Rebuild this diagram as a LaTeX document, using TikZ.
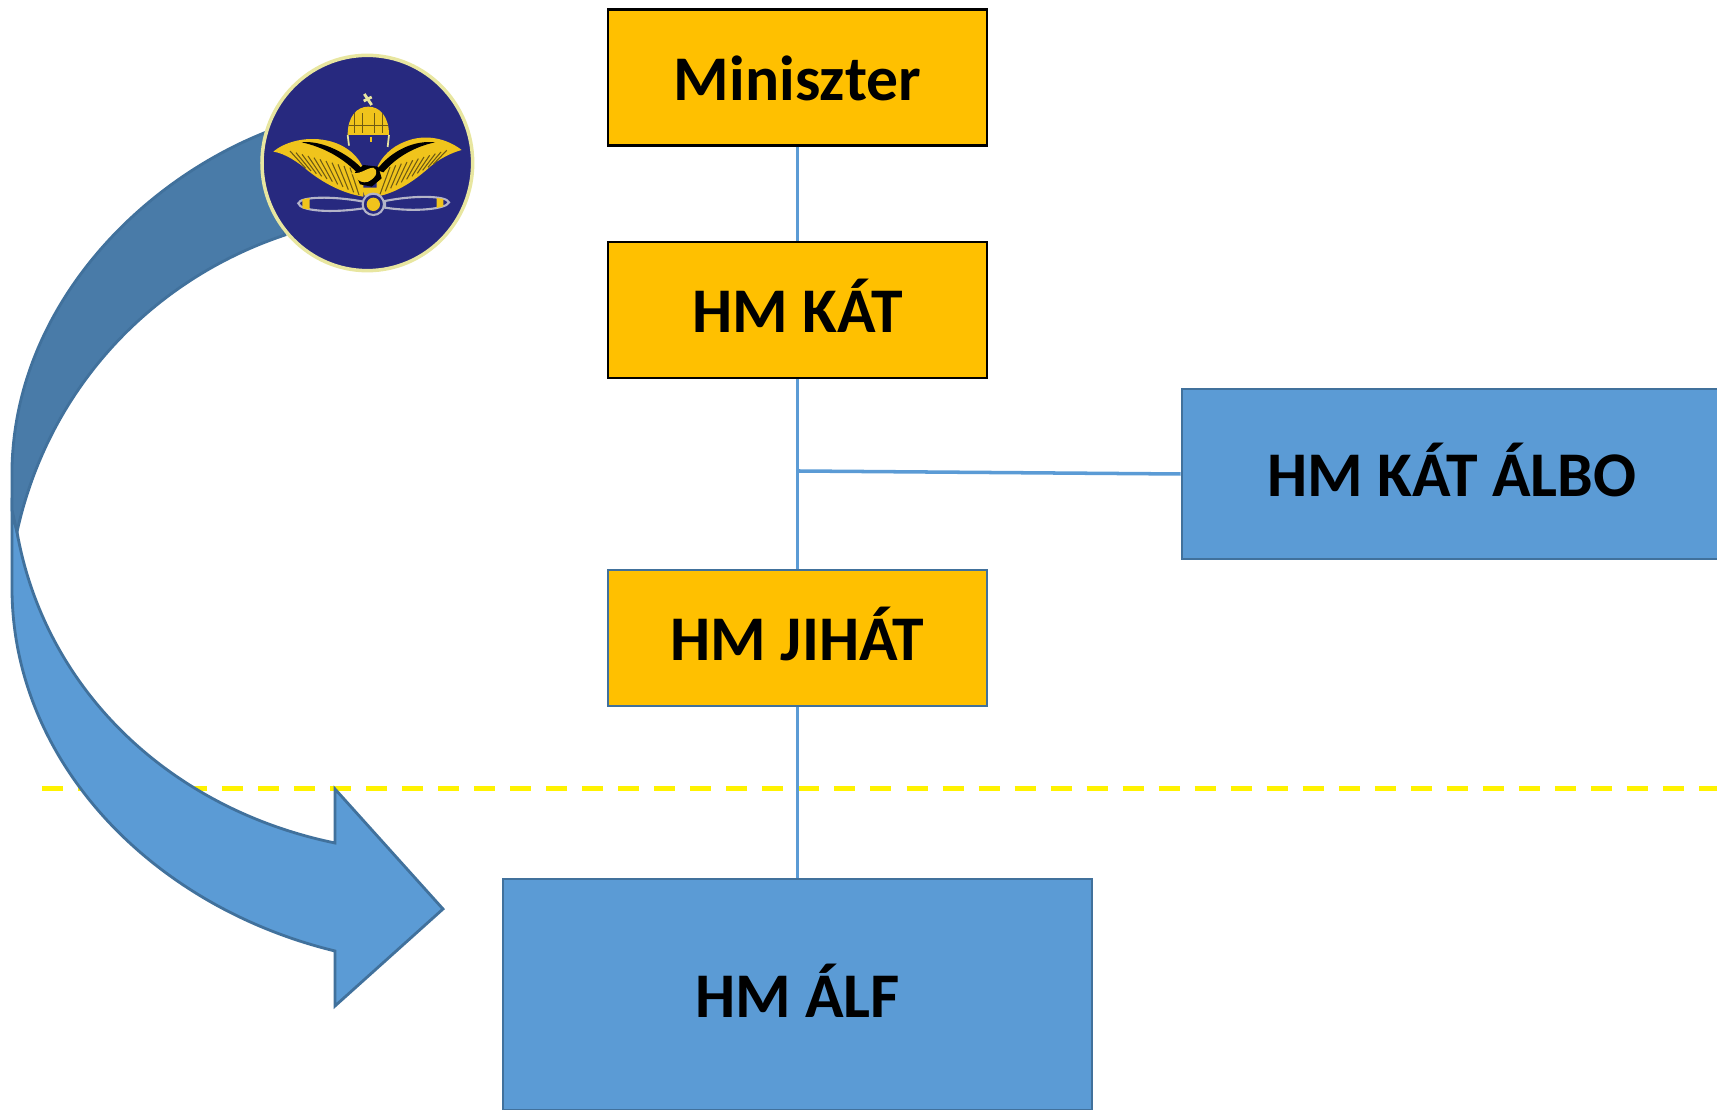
\documentclass[tikz,border=0pt]{standalone}
\usepackage{fontspec}
\setmainfont{Carlito}
\definecolor{boxgold}{HTML}{FFC000}
\definecolor{boxblue}{HTML}{5B9BD5}
\definecolor{boxedge}{HTML}{41719C}
\definecolor{arrowdark}{HTML}{497BA8}
\definecolor{badgenavy}{HTML}{27297F}
\definecolor{badgegold}{HTML}{F0C41C}
\definecolor{badgepale}{HTML}{E8E6A0}
\definecolor{bladeedge}{HTML}{B4B4C8}
\definecolor{featherline}{HTML}{6E5A14}
\setlength{\unitlength}{0.01cm}
\tikzset{
    orgbox/.style={draw=black,line width=0.75pt,fill=boxgold,minimum width=379\unitlength,minimum height=136\unitlength,font=\fontsize{18.1pt}{20pt}\selectfont\bfseries,inner sep=0pt,text height=16pt,text depth=3pt},
    bluebox/.style={orgbox,draw=boxedge,fill=boxblue},
    link/.style={draw=boxblue,line width=1pt},
    bandedge/.style={draw=boxedge,line width=0.8pt,line join=miter},
    crownline/.style={draw=featherline,line width=0.4pt},
    feather/.style={draw=featherline,line width=0.3pt},
    blade/.style={fill=badgenavy,draw=bladeedge,line width=0.6pt}
}
\begin{document}
\begin{tikzpicture}[x=0.01cm,y=-0.01cm]
    \useasboundingbox (0,0) rectangle (1717,1110);
    \draw[yellow,line width=1.5pt,dash pattern=on 0.21cm off 0.15cm] (42,788.5) -- (1730,788.5);
    % boxes
    \node[orgbox] (miniszter) at (797.5,77.5) {Miniszter};
    \node[orgbox] (kat) at (797.5,310) {HM KÁT};
    \node[orgbox,draw=boxedge] (jihat) at (797.5,638) {HM JIHÁT};
    \node[bluebox,minimum width=540\unitlength,minimum height=170\unitlength] (albo) at (1452,474) {HM KÁT ÁLBO};
    \node[bluebox,minimum width=589\unitlength,minimum height=231\unitlength] (alf) at (797.5,994.5) {HM ÁLF};
    \coordinate (branch) at (798,471);
    \draw[link] (miniszter) -- (kat);
    \draw[link] (kat) -- (jihat);
    \draw[link] (branch) -- (albo.west);
    \draw[link] (jihat) -- (alf);
    % curved arrow
    \draw[bandedge,fill=boxblue] (12,510) -- (12,588)
        .. controls (12,760) and (150,906) .. (335,951) -- (335,1006) -- (443,909) -- (335,789) -- (335,843)
        .. controls (170,809) and (45,690) .. (17,532) -- cycle;
    \draw[bandedge,fill=arrowdark] (285,235)
        .. controls (150,280) and (48,390) .. (17,532) -- (12,510) -- (12,467)
        .. controls (16,310) and (135,185) .. (264,133) -- cycle;
    % badge
    \begin{scope}[shift={(265,85)},scale=1/3]
        \fill[badgenavy,draw=badgepale,line width=1pt] (307,234) ellipse (316 and 323);
        % crown
        \draw[badgepale,line width=0.5pt] (248,150) -- (252,182);
        \draw[badgepale,line width=0.5pt] (372,150) -- (368,186);
        \fill[badgegold] (248,150) .. controls (248,95) and (275,65) .. (310,65) .. controls (345,65) and (372,95) .. (372,150) -- cycle;
        \foreach \i in {268,292,328,352}
            \draw[crownline] (\i,85) -- (\i,145);
        \draw[crownline] (252,122) -- (368,122);
        \draw[badgepale,line width=0.8pt] (298,27) -- (320,60);
        \draw[badgepale,line width=0.8pt] (296,48) -- (320,36);
        \draw[badgegold,line width=0.6pt] (318,155) -- (318,172);
        % wings
        \fill[badgegold] (25,200) .. controls (60,170) and (130,150) .. (200,170) .. controls (250,185) and (280,215) .. (295,250)
            -- (295,335) .. controls (230,325) and (170,290) .. (130,258) .. controls (100,232) and (60,205) .. (25,200) -- cycle;
        \fill[badgegold] (590,195) .. controls (545,160) and (480,145) .. (420,170) .. controls (380,185) and (350,215) .. (335,250)
            -- (335,335) .. controls (400,322) and (450,285) .. (490,250) .. controls (520,222) and (560,203) .. (590,195) -- cycle;
        \foreach \i in {0,...,10}
            {
                \draw[feather] (75+\i*18,198+\i*5) -- (122+\i*16,250+\i*8);
                \draw[feather] (545-\i*17,196+\i*5) -- (505-\i*16,238+\i*9);
            }
        \fill[black] (110,172) .. controls (170,165) and (250,205) .. (295,255) -- (275,262) .. controls (230,215) and (170,185) .. (110,172) -- cycle;
        \fill[black] (510,172) .. controls (450,165) and (380,195) .. (335,255) -- (355,262) .. controls (395,215) and (450,185) .. (510,172) -- cycle;
        \fill[black] (270,262) -- (295,240) -- (340,245) -- (350,280) -- (320,305) -- (285,298) -- cycle;
        % body
        \fill[badgegold] (255,262) .. controls (285,272) and (300,250) .. (325,248) .. controls (340,255) and (338,275) .. (310,290) .. controls (295,295) and (280,290) .. (272,275) -- cycle;
        \fill[badgegold] (290,308) -- (345,308) -- (332,340) -- (302,340) -- cycle;
        % propeller
        \draw[blade] (100,355) .. controls (105,335) and (200,332) .. (295,350) -- (295,370) .. controls (200,385) and (105,378) .. (100,355) -- cycle;
        \draw[blade] (552,352) .. controls (545,332) and (450,330) .. (360,348) -- (360,368) .. controls (450,382) and (545,372) .. (552,352) -- cycle;
        \fill[badgegold] (112,343) -- (134,339) -- (134,374) -- (112,370) -- cycle;
        \fill[badgegold] (515,339) -- (535,342) -- (535,364) -- (515,369) -- cycle;
        \draw[blade] (325,358) circle (32);
        \fill[badgegold] (325,358) circle (20);
    \end{scope}
\end{tikzpicture}
\end{document}
